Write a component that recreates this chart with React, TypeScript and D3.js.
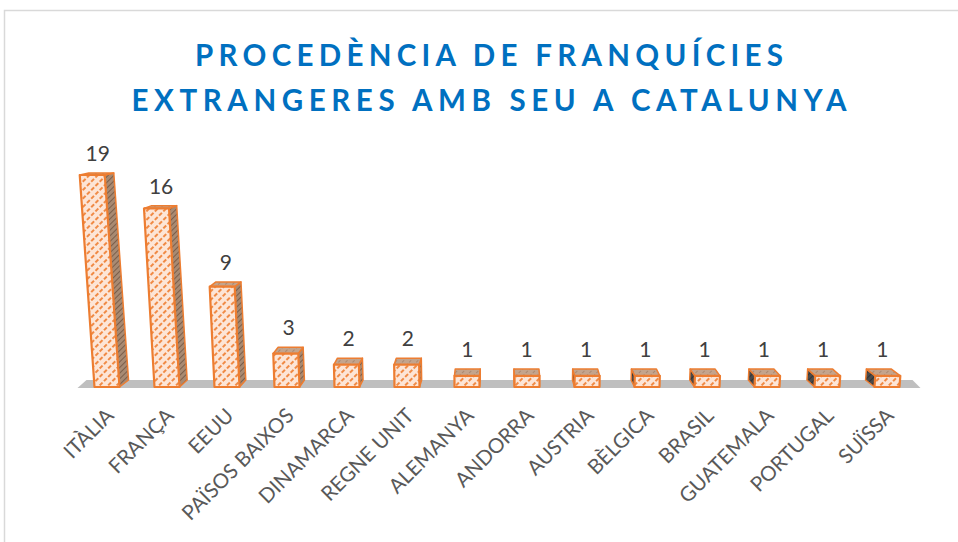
import React from "react";
import * as d3 from "d3";

const categories = ["ITÀLIA","FRANÇA","EEUU","PAÏSOS BAIXOS","DINAMARCA","REGNE UNIT","ALEMANYA","ANDORRA","AUSTRIA","BÈLGICA","BRASIL","GUATEMALA","PORTUGAL","SUÏSSA"];
const values = [19,16,9,3,2,2,1,1,1,1,1,1,1,1];
const titleLines = ["PROCEDÈNCIA DE FRANQUÍCIES","EXTRANGERES AMB SEU A CATALUNYA"];

const W = 958, H = 542;
const floorFront = 387, floorBack = 380;
const vx = 490, vxSide = 500, D = 5500;

export default function App() {
  const x = d3.scaleBand<string>().domain(categories).range([77, 917]).paddingInner(0.583).paddingOuter(0.2915);
  const y = d3.scaleLinear().domain([0, 19]).range([floorFront, 175]);
  const bw = x.bandwidth();
  const depth = (yy: number) => 0.0234 * yy - 2.05;
  const pts = (p: number[][]) => p.map(q => q.join(",")).join(" ");

  const bars = categories.map((c, i) => {
    const xL = x(c)!, xR = xL + bw, cx = xL + bw / 2;
    const yT = y(values[i]), yB = floorFront;
    const h = yB - yT;
    const lean = (cx - vx) * h / D;
    const dx = (vxSide - cx) * 0.023;
    const dT = depth(yT), dB = floorFront - floorBack;
    const front = [[xL + lean, yT],[xR + lean, yT],[xR, yB],[xL, yB]];
    const ex = dx > 0 ? xR : xL;
    const side = [[ex + lean, yT],[ex + lean + dx, yT - dT],[ex + dx, yB - dB],[ex, yB]];
    const top = [[xL + lean, yT],[xR + lean, yT],[xR + lean + dx, yT - dT],[xL + lean + dx, yT - dT]];
    const lx = cx + lean + dx * 0.6;
    const ly = yT - dT - 12;
    return { c, v: values[i], cx, front, side, top, right: dx > 0, lx, ly };
  });

  const x0 = x(categories[0])! - 17, x1 = x(categories[categories.length - 1])! + bw + 21;
  const floor = [[x0, floorFront + 1],[x1, floorFront + 1],[x1 - 8, floorBack],[x0 + 9, floorBack]];

  return (
    <svg width={W} height={H} style={{ position: "fixed", left: 0, top: 0, background: "#fff" }}>
      <defs>
        <pattern id="pf" width="6" height="6" patternUnits="userSpaceOnUse" patternTransform="rotate(45)">
          <rect width="6" height="6" fill="#FDE5D6" />
          <line x1="1" y1="0" x2="1" y2="6" stroke="#F08A45" strokeWidth="2" strokeDasharray="4 2" />
        </pattern>
        <pattern id="ps" width="4" height="4" patternUnits="userSpaceOnUse" patternTransform="rotate(45)">
          <rect width="4" height="4" fill="#A88A72" />
          <line x1="0" y1="0" x2="0" y2="4" stroke="#6F5240" strokeWidth="1.6" />
        </pattern>
        <pattern id="pl" width="4" height="4" patternUnits="userSpaceOnUse" patternTransform="rotate(45)">
          <rect width="4" height="4" fill="#4A4A4A" />
          <line x1="0" y1="0" x2="0" y2="4" stroke="#2A2A2A" strokeWidth="1.5" />
        </pattern>
        <pattern id="pt" width="5" height="5" patternUnits="userSpaceOnUse" patternTransform="rotate(45)">
          <rect width="5" height="5" fill="#C4A48C" />
          <line x1="0" y1="0" x2="0" y2="5" stroke="#9C7A62" strokeWidth="1.3" strokeDasharray="2 2" />
        </pattern>
      </defs>
      <rect x={4.5} y={10.5} width={1000} height={1000} fill="#fff" stroke="#D9D9D9" strokeWidth={1.5} />
      {titleLines.map((t, i) => (
        <text key={t} x={489} y={i === 0 ? 66 : 111} textAnchor="middle" fill="#0070C0"
          fontFamily="Lato, 'Open Sans', sans-serif" fontWeight="bold" fontSize={29.5}
          textLength={i === 0 ? 588 : 715} lengthAdjust="spacing">{t}</text>
      ))}
      <polygon points={pts(floor)} fill="#BFBFBF" />
      {bars.map(b => (
        <g key={b.c}>
          <polygon points={pts(b.side)} fill={b.right ? "url(#ps)" : "url(#pl)"} stroke="#ED7D31" strokeWidth={1.5} strokeLinejoin="round" />
          <polygon points={pts(b.top)} fill="url(#pt)" stroke="#ED7D31" strokeWidth={1.5} strokeLinejoin="round" />
          <polygon points={pts(b.front)} fill="url(#pf)" stroke="#ED7D31" strokeWidth={2.2} strokeLinejoin="round" />
          <text x={b.lx} y={b.ly} textAnchor="middle" fill="#404040" fontFamily="Lato, 'Open Sans', sans-serif" fontSize={21}>{b.v}</text>
        </g>
      ))}
      {bars.map(b => (
        <text key={"l" + b.c} transform={`translate(${b.cx + 8},${417}) rotate(-45)`} textAnchor="end"
          fill="#595959" fontFamily="Lato, 'Open Sans', sans-serif" fontSize={20.5}>{b.c}</text>
      ))}
    </svg>
  );
}
